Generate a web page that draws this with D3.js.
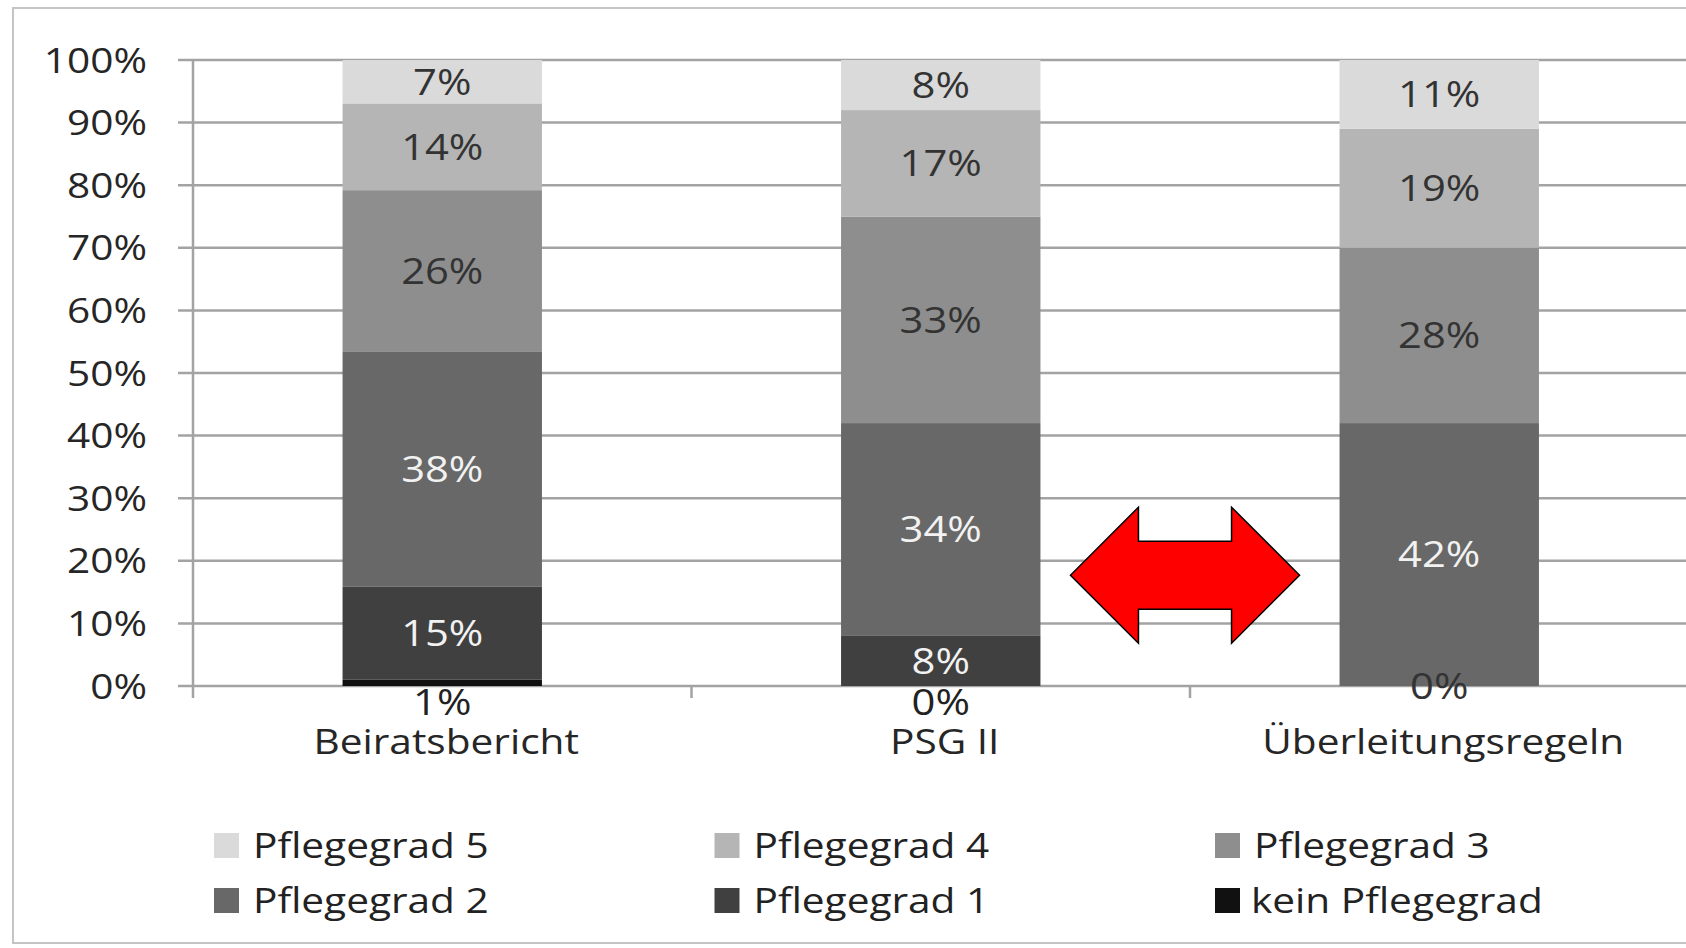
<!DOCTYPE html>
<html>
<head>
<meta charset="utf-8">
<script src="https://cdn.jsdelivr.net/npm/d3@7"></script>
<style>
  html, body { margin: 0; padding: 0; background: #fff; }
  svg { display: block; }
  text { font-family: "Open Sans", sans-serif; }
  /* Originalgrafik ist horizontal gestreckt */
  .stretch { transform-box: fill-box; transform-origin: 50% 50%; transform: scaleX(1.16); }
  .stretch-end { transform-box: fill-box; transform-origin: 100% 50%; transform: scaleX(1.16); }
  .stretch-start { transform-box: fill-box; transform-origin: 0% 50%; transform: scaleX(1.16); }
</style>
</head>
<body>
<svg id="chart" width="1686" height="948"></svg>
<script>
// Kategorien (Balken)
var categories = ["Beiratsbericht", "PSG II", "Überleitungsregeln"];

// Anteile in Prozent je Pflegegrad
var keinPflegegrad = [1, 0, null];
var pflegegrad1 = [15, 8, 0];
var pflegegrad2 = [38, 34, 42];
var pflegegrad3 = [26, 33, 28];
var pflegegrad4 = [14, 17, 19];
var pflegegrad5 = [7, 8, 11];

// Serien von unten nach oben
var seriesKeys = ["kein Pflegegrad", "Pflegegrad 1", "Pflegegrad 2", "Pflegegrad 3", "Pflegegrad 4", "Pflegegrad 5"];
var seriesValues = [keinPflegegrad, pflegegrad1, pflegegrad2, pflegegrad3, pflegegrad4, pflegegrad5];
var seriesColors = ["#111111", "#404040", "#686868", "#8e8e8e", "#b5b5b5", "#dadada"];
var labelColors = ["#222222", "#f2f2f2", "#f2f2f2", "#333333", "#333333", "#333333"];

// Legendenreihenfolge
var legendOrder = ["Pflegegrad 5", "Pflegegrad 4", "Pflegegrad 3", "Pflegegrad 2", "Pflegegrad 1", "kein Pflegegrad"];

var yTicks = d3.range(0, 1.0001, 0.1);

// Tabelle für d3.stack bauen
var table = categories.map(function(c, i) {
    var row = { category: c };
    seriesKeys.forEach(function(k, j) { row[k] = seriesValues[j][i]; });
    return row;
});

var stacked = d3.stack()
    .keys(seriesKeys)
    .value(function(d, k) { return d[k] || 0; })
    .offset(d3.stackOffsetExpand)(table);

var svg = d3.select("#chart");
var width = 1686;

// Rahmen
svg.append("rect")
    .attr("x", 13).attr("y", 8)
    .attr("width", 1720).attr("height", 935)
    .attr("fill", "#fff")
    .attr("stroke", "#c4c4c4")
    .attr("stroke-width", 2);

// Skalen
var x = d3.scaleBand()
    .domain(categories)
    .range([193, 193 + 3 * 498.5])
    .paddingInner(0.6)
    .paddingOuter(0.3);

var y = d3.scaleLinear()
    .domain([0, 1])
    .range([686, 60]);

// Gitterlinien inkl. kleiner Striche links
svg.append("g")
    .selectAll("line")
    .data(yTicks)
    .enter().append("line")
        .attr("x1", 178)
        .attr("x2", width)
        .attr("y1", function(d) { return y(d); })
        .attr("y2", function(d) { return y(d); })
        .attr("stroke", "#a3a3a3")
        .attr("stroke-width", 2.5);

// Y-Achse
svg.append("line")
    .attr("x1", 193).attr("x2", 193)
    .attr("y1", y(1)).attr("y2", y(0) + 12)
    .attr("stroke", "#a3a3a3")
    .attr("stroke-width", 2.5);

svg.append("g")
    .selectAll("text")
    .data(yTicks)
    .enter().append("text")
        .attr("class", "stretch-end")
        .attr("x", 147)
        .attr("y", function(d) { return y(d); })
        .attr("dy", "0.36em")
        .attr("text-anchor", "end")
        .attr("fill", "#262626")
        .style("font-size", "35px")
        .text(d3.format(".0%"));

// Kategorie-Trennstriche an der X-Achse
svg.append("g")
    .selectAll("line")
    .data(d3.range(1, categories.length + 1))
    .enter().append("line")
        .attr("x1", function(i) { return x.range()[0] + i * x.step(); })
        .attr("x2", function(i) { return x.range()[0] + i * x.step(); })
        .attr("y1", y(0))
        .attr("y2", y(0) + 12)
        .attr("stroke", "#a3a3a3")
        .attr("stroke-width", 2.5);

// Beschriftung "kein Pflegegrad" unterhalb der Achse (hinter den Balken)
svg.append("g")
    .selectAll("text")
    .data(stacked[0].filter(function(d) { return d.data[seriesKeys[0]] != null; }))
    .enter().append("text")
        .attr("class", "stretch")
        .attr("x", function(d) { return x(d.data.category) + x.bandwidth() / 2; })
        .attr("y", y(0) + 16)
        .attr("dy", "0.36em")
        .attr("text-anchor", "middle")
        .attr("fill", labelColors[0])
        .style("font-size", "36px")
        .text(function(d) { return d.data[seriesKeys[0]] + "%"; });

// Gestapelte Balken
var layers = svg.append("g")
    .selectAll("g")
    .data(stacked)
    .enter().append("g")
        .attr("fill", function(d, i) { return seriesColors[i]; });

layers.selectAll("rect")
    .data(function(d) { return d; })
    .enter().append("rect")
        .attr("x", function(d) { return x(d.data.category); })
        .attr("y", function(d) { return y(d[1]); })
        .attr("width", x.bandwidth())
        .attr("height", function(d) { return y(d[0]) - y(d[1]); });

// Datenbeschriftungen in den Segmenten
stacked.slice(1).forEach(function(layer, j) {
    var idx = j + 1;
    svg.append("g")
        .selectAll("text")
        .data(layer.filter(function(d) { return d.data[seriesKeys[idx]] != null; }))
        .enter().append("text")
            .attr("class", "stretch")
            .attr("x", function(d) { return x(d.data.category) + x.bandwidth() / 2; })
            .attr("y", function(d) { return y((d[0] + d[1]) / 2); })
            .attr("dy", "0.36em")
            .attr("text-anchor", "middle")
            .attr("fill", function(d) { return d[1] - d[0] === 0 ? "#333333" : labelColors[idx]; })
            .style("font-size", "36px")
            .text(function(d) { return d.data[seriesKeys[idx]] + "%"; });
});

// Kategorienamen
svg.append("g")
    .selectAll("text")
    .data(categories)
    .enter().append("text")
        .attr("class", "stretch")
        .attr("x", function(d) { return x(d) + x.bandwidth() / 2 + 4; })
        .attr("y", 754)
        .attr("text-anchor", "middle")
        .attr("fill", "#262626")
        .style("font-size", "35px")
        .text(function(d) { return d; });

// Roter Doppelpfeil zwischen PSG II und Überleitungsregeln
var arrowL = x("PSG II") + x.bandwidth() + 30;
var arrowR = x("Überleitungsregeln") - 40;
var arrowY = y(0.177);
var head = 68, headH = 68, shaftH = 34;
var arrowPts = [
    [arrowL, arrowY],
    [arrowL + head, arrowY - headH],
    [arrowL + head, arrowY - shaftH],
    [arrowR - head, arrowY - shaftH],
    [arrowR - head, arrowY - headH],
    [arrowR, arrowY],
    [arrowR - head, arrowY + headH],
    [arrowR - head, arrowY + shaftH],
    [arrowL + head, arrowY + shaftH],
    [arrowL + head, arrowY + headH]
];
svg.append("polygon")
    .attr("points", arrowPts.map(function(p) { return p.join(","); }).join(" "))
    .attr("fill", "#ff0000")
    .attr("stroke", "#000")
    .attr("stroke-width", 1.5)
    .attr("stroke-linejoin", "miter");

// Legende
var legend = svg.append("g")
    .selectAll("g")
    .data(legendOrder)
    .enter().append("g")
        .attr("transform", function(d, i) {
            return "translate(" + (214 + (i % 3) * 500.5) + "," + (845 + Math.floor(i / 3) * 55) + ")";
        });

legend.append("rect")
    .attr("x", 0)
    .attr("y", -12)
    .attr("width", 25)
    .attr("height", 25)
    .attr("fill", function(d) { return seriesColors[seriesKeys.indexOf(d)]; });

legend.append("text")
    .attr("class", "stretch-start")
    .attr("x", function(d) { return d === "kein Pflegegrad" ? 36 : 39; })
    .attr("y", 0)
    .attr("dy", "0.36em")
    .attr("fill", "#222")
    .style("font-size", "35px")
    .text(function(d) { return d; });
</script>
</body>
</html>
